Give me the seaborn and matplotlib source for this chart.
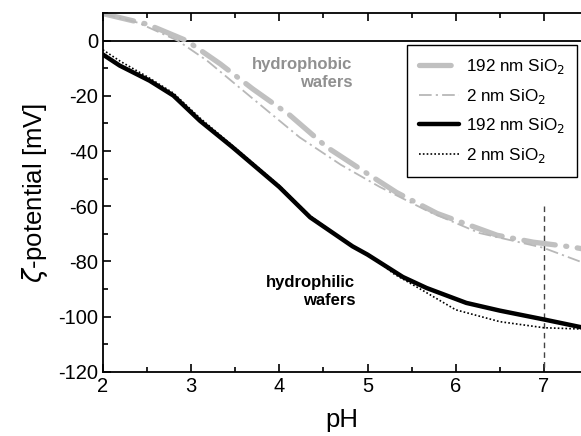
import numpy as np
import pandas as pd
import matplotlib
matplotlib.use("Agg")
import matplotlib.pyplot as plt
from matplotlib.ticker import MultipleLocator
import seaborn as sns

sns.set_theme(style="ticks")
plt.rcParams['font.family'] = ['Liberation Sans', 'DejaVu Sans']
plt.rcParams['axes.unicode_minus'] = False
plt.rcParams['text.color'] = 'black'
plt.rcParams['axes.labelcolor'] = 'black'
plt.rcParams['xtick.color'] = 'black'
plt.rcParams['ytick.color'] = 'black'

# Hydrophobic, 192 nm SiO2 (thick gray dash-dot)
ph_phob192 = [2.0, 2.5, 2.95, 3.33, 3.7, 4.12, 4.54, 4.99, 5.33, 5.79, 6.47, 6.88, 7.33, 7.45]
z_phob192 = [9.8, 6.0, 0.0, -8.4, -17.5, -27.0, -38.6, -48.0, -55.0, -62.6, -70.5, -73.0, -74.8, -75.5]
# Hydrophobic, 2 nm SiO2 (thin gray dash-dot)
ph_phob2 = [2.0, 2.4, 2.85, 3.18, 3.7, 4.23, 4.7, 5.14, 5.7, 6.27, 6.99, 7.45]
z_phob2 = [9.8, 6.5, 0.0, -7.2, -21.0, -35.0, -45.0, -53.0, -62.0, -69.7, -75.0, -80.5]
# Hydrophilic, 192 nm SiO2 (thick black solid)
ph_phil192 = [2.0, 2.19, 2.53, 2.8, 3.1, 3.47, 4.0, 4.35, 4.83, 5.0, 5.4, 5.67, 6.12, 6.5, 7.0, 7.45]
z_phil192 = [-5.0, -9.0, -14.5, -19.9, -29.0, -38.6, -53.0, -64.0, -74.5, -77.5, -85.6, -89.6, -95.0, -97.8, -101.0, -104.0]
# Hydrophilic, 2 nm SiO2 (black dotted)
ph_phil2 = [2.0, 2.2, 2.5, 2.8, 3.1, 3.47, 4.0, 4.35, 4.83, 5.03, 5.3, 5.6, 6.0, 6.5, 7.0, 7.45]
z_phil2 = [-3.3, -7.5, -13.0, -19.0, -28.0, -38.0, -52.5, -63.5, -74.5, -77.7, -84.5, -90.0, -97.5, -101.8, -104.0, -104.5]

fig, ax = plt.subplots(figsize=(5.81, 4.36), dpi=100)
fig.subplots_adjust(left=0.177, right=1.0, top=0.97, bottom=0.147)

ax.axhline(0, color='black', lw=1.3, zorder=1)
ax.plot([7, 7], [-60, -120], color='#444444', lw=1.0, ls=(0, (4, 3)), zorder=1)

sns.lineplot(x=ph_phob192, y=z_phob192, ax=ax, color='#c0c0c0', lw=3.8,
             ls=(0, (6.0, 2.0, 0.2, 2.0)), dash_capstyle='round', label='192 nm SiO$_2$', sort=False)
sns.lineplot(x=ph_phob2, y=z_phob2, ax=ax, color='#b8b8b8', lw=1.3,
             ls=(0, (7, 2.3, 1.2, 2.3)), label='2 nm SiO$_2$', sort=False)
sns.lineplot(x=ph_phil192, y=z_phil192, ax=ax, color='black', lw=3.2,
             ls='-', label='192 nm SiO$_2$', sort=False)
sns.lineplot(x=ph_phil2, y=z_phil2, ax=ax, color='black', lw=1.2,
             ls=(0, (1, 1.3)), label='2 nm SiO$_2$', sort=False)

ax.set_xlim(2, 7.42)
ax.set_ylim(-120, 10)
ax.xaxis.set_major_locator(MultipleLocator(1))
ax.xaxis.set_minor_locator(MultipleLocator(0.5))
ax.yaxis.set_major_locator(MultipleLocator(20))
ax.yaxis.set_minor_locator(MultipleLocator(10))
ax.tick_params(which='both', direction='in', top=True, right=False, width=1.2, labelsize=14.5,
               color='black', labelcolor='black')
ax.tick_params(which='major', length=6)
ax.tick_params(which='minor', length=3.5)
for s in ['left', 'bottom', 'top']:
    ax.spines[s].set_linewidth(1.3)
    ax.spines[s].set_color('black')
ax.spines['right'].set_visible(False)

ax.set_xlabel('pH', fontsize=18.5, labelpad=9, color='black')
ax.set_ylabel('$\\zeta$-potential [mV]', fontsize=18.5, labelpad=6, color='black')

ax.text(4.83, -12, 'hydrophobic\nwafers', color='#909090', fontsize=12, fontweight='bold',
        ha='right', va='center', linespacing=1.25)
ax.text(4.86, -91, 'hydrophilic\nwafers', color='black', fontsize=12, fontweight='bold',
        ha='right', va='center', linespacing=1.25)

leg = ax.legend(loc='upper right', bbox_to_anchor=(0.992, 0.911), borderaxespad=0,
                fontsize=12.3, frameon=True,
                fancybox=False, edgecolor='black', framealpha=1, handlelength=2.3,
                labelspacing=0.62, borderpad=0.7, handletextpad=0.45)
leg.get_frame().set_linewidth(1.0)
for t in leg.get_texts():
    t.set_ha('right')
    t.set_color('black')

fig.savefig('out.png', dpi=100)
